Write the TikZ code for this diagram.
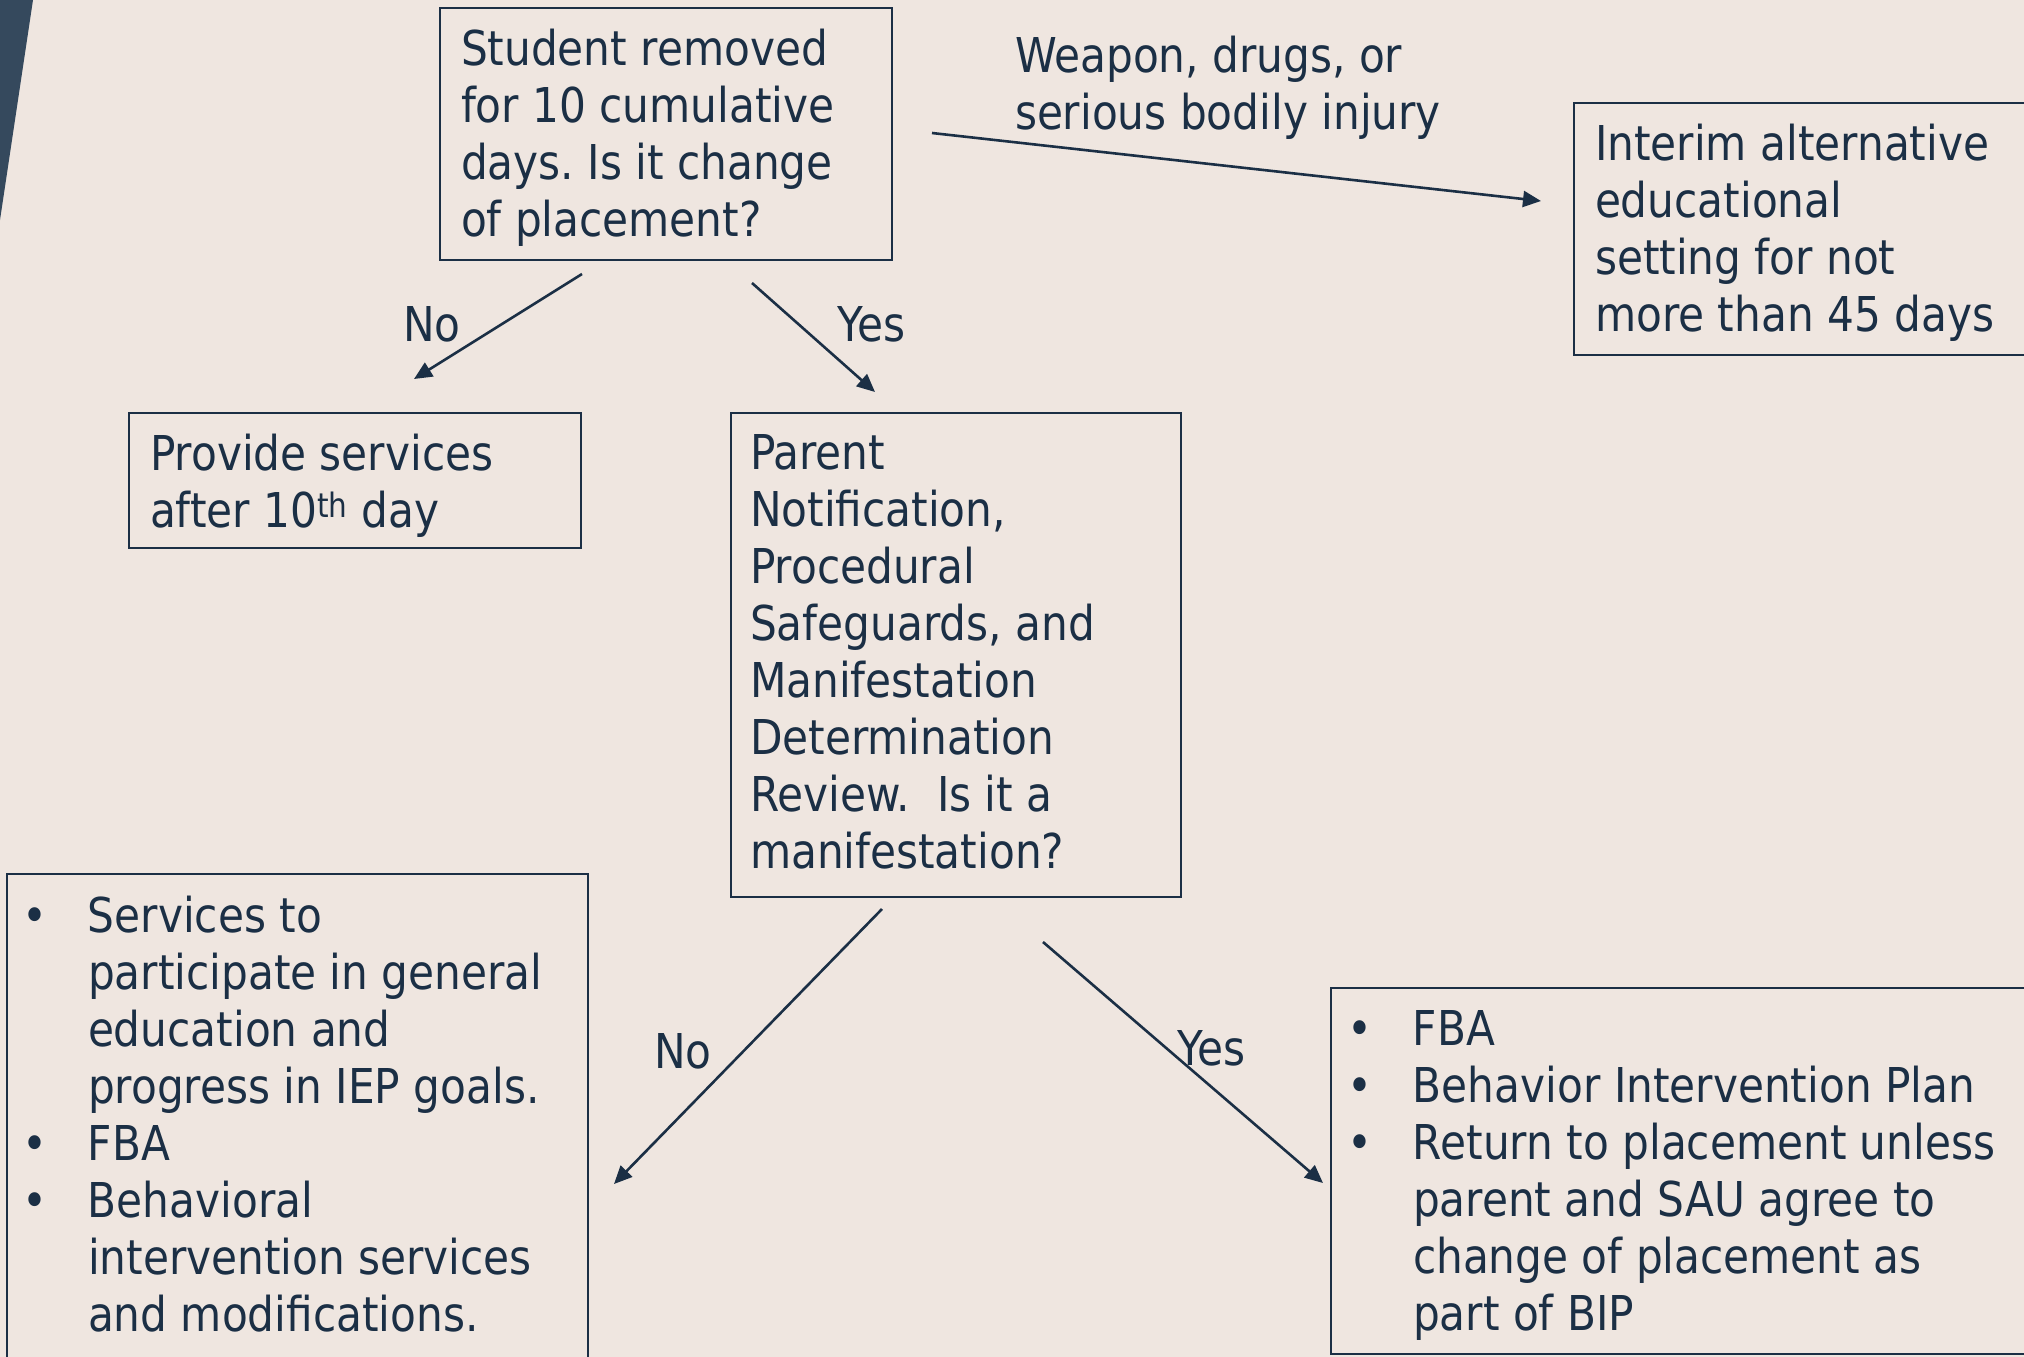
\documentclass[tikz,border=0pt]{standalone}
\usepackage{fontspec}
\setmainfont[FakeStretch=0.88]{DejaVu Sans}
\usetikzlibrary{arrows.meta}
\definecolor{bgc}{HTML}{EFE6E0}
\definecolor{ink}{HTML}{1B2F45}
\definecolor{slate}{HTML}{35495D}
\tikzset{
  boxc/.style={draw=ink, line width=2.5pt, inner sep=0pt, outer sep=0pt, anchor=north west},
  txt/.style={inner sep=0pt, outer sep=0pt, anchor=base west, text=ink, font=\fontsize{48}{57}\selectfont},
  arr/.style={draw=ink, line width=2.6pt, -{Triangle[length=18pt,width=16pt]}},
}
\frenchspacing
\newcommand{\blt}{\leavevmode\llap{\makebox[106pt]{\textbullet}}}
\newcommand{\tb}[2]{\parbox[t]{#1}{\raggedright\frenchspacing #2}}
\begin{document}
\begin{tikzpicture}[x=1pt,y=-1pt]
\useasboundingbox (0,0) rectangle (2024,1357);
\fill[bgc] (0,0) rectangle (2024,1357);
\clip (0,0) rectangle (2024,1357);
\fill[slate] (0,0) -- (33,0) -- (0,220) -- cycle;

% boxes
\node[boxc, minimum width=452pt, minimum height=252pt] (top) at (440,8) {};
\node[txt] (toptext) at (461,65) {\tb{430pt}{Student removed\\for 10 cumulative\\days. Is it change\\of placement?}};

\node[boxc, minimum width=600pt, minimum height=252pt] (interim) at (1574,103) {};
\node[txt] (interimtext) at (1595,160) {\tb{430pt}{Interim alternative\\educational\\setting for not\\more than 45 days}};

\node[boxc, minimum width=452pt, minimum height=135pt] (provide) at (129,413) {};
\node[txt] (providetext) at (150,470) {\tb{430pt}{Provide services\\after 10\textsuperscript{th} day}};

\node[boxc, minimum width=450pt, minimum height=484pt] (parent) at (731,413) {};
\node[txt] (parenttext) at (750,469) {\tb{430pt}{Parent\\Notification,\\Procedural\\Safeguards, and\\Manifestation\\Determination\\Review.\ \ Is it a\\manifestation?}};

\node[boxc, minimum width=581pt, minimum height=600pt] (nobox) at (7,874) {};
\node[txt] (noboxtext) at (88,932) {\tb{500pt}{\blt Services to\\participate in general\\education and\\progress in IEP goals.\\\blt FBA\\\blt Behavioral\\intervention services\\and modifications.}};

\node[boxc, minimum width=800pt, minimum height=366pt] (yesbox) at (1331,988) {};
\node[txt] (yesboxtext) at (1413,1045) {\tb{700pt}{\blt FBA\\\blt Behavior Intervention Plan\\\blt Return to placement unless\\parent and SAU agree to\\change of placement as\\part of BIP}};

% labels
\node[txt] (weapon) at (1015,72) {\tb{500pt}{Weapon, drugs, or\\serious bodily injury}};
\node[txt] (no1) at (403,341) {No};
\node[txt] (yes1) at (837,341) {Yes};
\node[txt] (no2) at (654,1068) {No};
\node[txt] (yes2) at (1177,1065) {Yes};

% connector end points
\coordinate (wA) at (932,133);
\coordinate (wB) at (1541,201);
\coordinate (n1A) at (582,274);
\coordinate (n1B) at (414,379);
\coordinate (y1A) at (752,283);
\coordinate (y1B) at (875,392);
\coordinate (n2A) at (882,909);
\coordinate (n2B) at (614,1184);
\coordinate (y2A) at (1043,942);
\coordinate (y2B) at (1323,1183);

\draw[arr] (wA) -- (wB);
\draw[arr] (n1A) -- (n1B);
\draw[arr] (y1A) -- (y1B);
\draw[arr] (n2A) -- (n2B);
\draw[arr] (y2A) -- (y2B);
\end{tikzpicture}
\end{document}
